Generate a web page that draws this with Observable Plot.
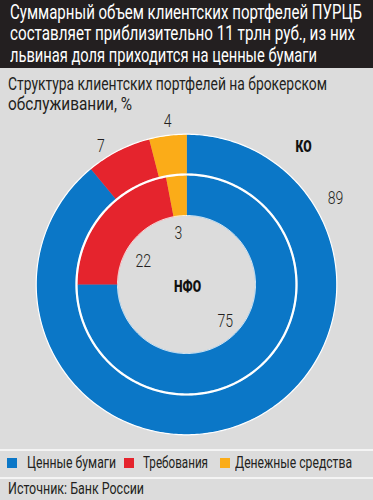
<!DOCTYPE html>
<html>
<head>
<meta charset="utf-8">
<script src="https://cdn.jsdelivr.net/npm/d3@7"></script>
<script src="https://cdn.jsdelivr.net/npm/@observablehq/plot@0.6"></script>
<style>
  html, body { margin: 0; padding: 0; }
  body { width: 373px; height: 500px; overflow: hidden; background: #dcdcdc;
         font-family: Roboto, "Noto Sans", sans-serif; color: #231f20; }
  #page { position: relative; width: 373px; height: 500px; background: #dcdcdc; }
  #header { position: absolute; left: 0; top: 0; width: 373px; height: 68px; background: #231f20; color: #fff; }
  .abs { position: absolute; white-space: nowrap; transform-origin: 0 0; display: inline-block; }
  .h { font-size: 21px; line-height: 21px; color: #fff; }
  .s { font-size: 17.5px; line-height: 19px; }
  .l { font-size: 16px; line-height: 18px; }
  #chart { position: absolute; left: 0; top: 118px; }
  .sep { position: absolute; left: 0; width: 373px; height: 2px; background: #f4f4f4; }
  .sw { position: absolute; width: 10px; height: 10px; }
</style>
</head>
<body>
<div id="page">
  <div id="header"></div>
  <div id="chart"></div>
  <div class="sep" style="top:449px"></div>
  <div class="sep" style="top:477px"></div>
</div>
<script>
// ---- data ----
const titleLines = ["Суммарный объем клиентских портфелей ПУРЦБ", "составляет приблизительно 11 трлн руб., из них", "львиная доля приходится на ценные бумаги"];
const subtitleLines = ["Структура клиентских портфелей на брокерском", "обслуживании, %"];
const sourceText = "Источник: Банк России";
const categories = ["Ценные бумаги", "Требования", "Денежные средства"];
const colors = ["#0b77c7", "#e5242d", "#fbac18"];
const rings = ["КО", "НФО"];
const koValues = [89, 7, 4];
const nfoValues = [75, 22, 3];

// ---- layout (pixels) ----
const W = 373, H = 330, CX = 186, CY = 166;
const ringRadii = { "КО": [111, 150], "НФО": [69, 109] };
const ringValues = { "КО": koValues, "НФО": nfoValues };
const labelPlacement = {
  "КО":  [{a: 60, r: 172}, {a: -31.7, r: 163}, {a: -6.6, r: 165}],
  "НФО": [{a: 133, r: 53}, {a: -62, r: 49}, {a: -9, r: 52}]
};
const ringNamePlacement = { "КО": {x: 117, y: 138}, "НФО": {x: 1, y: -2} };

const page = document.getElementById("page");
function fitText(text, cls, left, top, width, parent) {
  const el = document.createElement("span");
  el.className = "abs " + cls;
  el.textContent = text;
  el.style.left = left + "px";
  el.style.top = top + "px";
  (parent || page).appendChild(el);
  const w = el.getBoundingClientRect().width;
  if (w > 0) el.style.transform = `scaleX(${width / w})`;
  return el;
}
const header = document.getElementById("header");
const titleW = [352, 345, 307];
titleLines.forEach((t, i) => fitText(t, "h", 10, 1.5 + i * 21.5, titleW[i], header));
const subW = [319, 124];
subtitleLines.forEach((t, i) => fitText(t, "s", 8, 74.5 + i * 20, subW[i]));
fitText(sourceText, "l", 8, 480, 136);

// legend
const legendLayout = [{sw: 7, tx: 27, tw: 89}, {sw: 124, tx: 143, tw: 65}, {sw: 220, tx: 235, tw: 117}];
categories.forEach((c, i) => {
  const s = document.createElement("div");
  s.className = "sw";
  s.style.background = colors[i];
  s.style.left = legendLayout[i].sw + "px";
  s.style.top = "458px";
  page.appendChild(s);
  fitText(c, "l", legendLayout[i].tx, 454, legendLayout[i].tw);
});

const rad = d => d * Math.PI / 180;
const slices = [];
for (const ring of rings) {
  const vals = ringValues[ring];
  const total = d3.sum(vals);
  const [r0, r1] = ringRadii[ring];
  let acc = 0;
  vals.forEach((v, i) => {
    const a0 = acc / total * 360, a1 = (acc + v) / total * 360;
    acc += v;
    const pts = [];
    const n = Math.max(2, Math.ceil((a1 - a0) / 0.5));
    for (let k = 0; k <= n; k++) { const t = rad(a0 + (a1 - a0) * k / n); pts.push({x: r1 * Math.sin(t), y: r1 * Math.cos(t)}); }
    for (let k = n; k >= 0; k--) { const t = rad(a0 + (a1 - a0) * k / n); pts.push({x: r0 * Math.sin(t), y: r0 * Math.cos(t)}); }
    slices.push({ring, category: categories[i], color: colors[i], pts});
  });
}
const circle = r => d3.range(0, 361, 1).map(a => ({x: r * Math.sin(rad(a)), y: r * Math.cos(rad(a))}));

const labels = [];
for (const ring of rings) {
  ringValues[ring].forEach((v, i) => {
    const p = labelPlacement[ring][i];
    labels.push({text: String(v), x: p.r * Math.sin(rad(p.a)), y: p.r * Math.cos(rad(p.a))});
  });
}
const names = rings.map(r => ({text: r, x: ringNamePlacement[r].x, y: ringNamePlacement[r].y}));

const font = "Roboto, 'Noto Sans', sans-serif";
const marks = [];
for (const s of slices) {
  marks.push(Plot.line(s.pts, {x: "x", y: "y", fill: s.color, stroke: s.color, strokeWidth: 0.6}));
}
marks.push(Plot.line(circle(150.3), {x: "x", y: "y", stroke: "#ffffff", strokeWidth: 1.2}));
marks.push(Plot.line(circle(110), {x: "x", y: "y", stroke: "#ffffff", strokeWidth: 2.2}));
marks.push(Plot.line(circle(69), {x: "x", y: "y", stroke: "#ffffff", strokeWidth: 0.8}));
marks.push(Plot.text(labels, {x: "x", y: "y", text: "text", fontSize: 18.5, fill: "#231f20", fontFamily: font, fontWeight: 300}));
marks.push(Plot.text(names, {x: "x", y: "y", text: "text", fontSize: 16, fontWeight: "900", fill: "#111", fontFamily: font}));

const chart = Plot.plot({
  width: W, height: H,
  margin: 0,
  x: {domain: [-CX, W - CX], axis: null},
  y: {domain: [-(H - CY), CY], axis: null},
  style: {background: "transparent", overflow: "visible"},
  marks
});
// condense chart texts horizontally (the reference uses a condensed face)
chart.querySelectorAll("text").forEach(t => {
  const tr = t.getAttribute("transform");
  if (tr) t.setAttribute("transform", tr + " scale(0.76,1)");
});
document.getElementById("chart").appendChild(chart);
</script>
</body>
</html>
